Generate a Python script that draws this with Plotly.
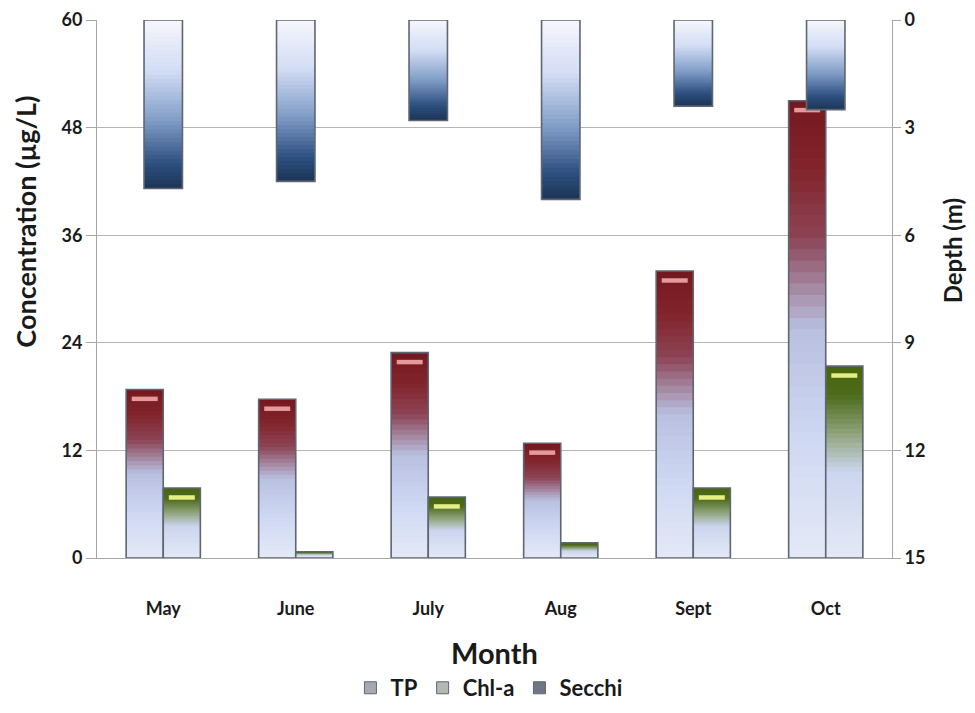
"""Monthly TP, Chl-a and Secchi depth, concentration vs depth bar chart."""

import plotly.graph_objects as go

months = ["May", "June", "July", "Aug", "Sept", "Oct"]
tp = [18.8, 17.7, 22.9, 12.8, 32.0, 51.0]
chla = [7.8, 0.7, 6.8, 1.7, 7.8, 21.4]
secchi = [4.7, 4.5, 2.8, 5.0, 2.4, 2.5]

conc_ticks = [0, 12, 24, 36, 48, 60]
depth_ticks = [0, 3, 6, 9, 12, 15]

FONT = "Lato"
N_SEG = 40


def hex_to_rgb(h):
    h = h.lstrip("#")
    return tuple(int(h[i:i + 2], 16) for i in (0, 2, 4))


def gradient_color(stops, t):
    """Interpolate a colour at t (0 = top of bar, 1 = bottom)."""
    for (t0, c0), (t1, c1) in zip(stops[:-1], stops[1:]):
        if t0 <= t <= t1:
            f = (t - t0) / (t1 - t0) if t1 > t0 else 0
            a, b = hex_to_rgb(c0), hex_to_rgb(c1)
            r, g, bl = (round(a[i] + (b[i] - a[i]) * f) for i in range(3))
            return f"rgb({r},{g},{bl})"
    return stops[-1][1]


TP_STOPS = [(0, "#741820"), (0.15, "#82242b"), (0.3, "#8c4456"),
            (0.5, "#b9c0e0"), (0.75, "#cfd9f3"), (1, "#e4e9f6")]
CHLA_STOPS = [(0, "#48660f"), (0.15, "#4d6a1b"), (0.35, "#8fa37a"),
              (0.55, "#cbd5ee"), (1, "#e4e9f6")]
SECCHI_STOPS = [(0, "#f6f6fc"), (0.3, "#d3ddf5"), (0.6, "#7f9cc6"),
                (0.85, "#2e5080"), (1, "#1b3455")]


def add_gradient_bars(fig, values, stops, offset, width, name, rank, legend_color,
                      yaxis="y", hanging=False, highlight=None):
    """Draw one series as overlapping bars to fake a vertical gradient."""
    # each layer is drawn over the previous one and stops one step shorter,
    # so only a thin band of every colour stays visible (no seams)
    for k in range(N_SEG):
        t = (k + 0.5) / N_SEG
        if hanging:
            # bar hangs from 0 on a reversed axis: top of bar is depth 0
            base = [v * k / N_SEG for v in values]
        else:
            base = [0] * len(values)
        fig.add_trace(go.Bar(
            x=months,
            y=[v * (1 - k / N_SEG) for v in values],
            base=base,
            offset=offset,
            width=width,
            yaxis=yaxis,
            marker={"color": gradient_color(stops, t), "line": {"width": 0}},
            showlegend=False,
            hoverinfo="skip",
        ))

    # highlight strip near the top of the bar
    if highlight:
        fig.add_trace(go.Bar(
            x=months,
            y=[0.5 if v > 3 else 0 for v in values],
            base=[v - 1.3 for v in values],
            offset=offset + width * 0.15,
            width=width * 0.7,
            yaxis=yaxis,
            marker={"color": highlight, "line": {"width": 0}},
            showlegend=False,
            hoverinfo="skip",
        ))

    # outline
    fig.add_trace(go.Bar(
        x=months,
        y=values,
        offset=offset,
        width=width,
        yaxis=yaxis,
        name=name,
        showlegend=False,
        marker={"color": "rgba(0,0,0,0)",
                "line": {"color": "#5f6672", "width": 1.6}},
        hovertemplate=f"{name}: %{{y}}<extra></extra>",
    ))

    # legend entry only
    fig.add_trace(go.Bar(
        x=[None], y=[None],
        name=name,
        legendrank=rank,
        marker={"color": legend_color, "line": {"color": "#5f6672", "width": 1}},
    ))


fig = go.Figure()

# Secchi depth hangs from the top (reversed right axis)
add_gradient_bars(fig, secchi, SECCHI_STOPS, -0.145, 0.29, "Secchi", 3, "#6f7786",
                  yaxis="y2", hanging=True)
add_gradient_bars(fig, tp, TP_STOPS, -0.28, 0.28, "TP", 1, "#a5a9b2",
                  highlight="#e49a9c")
add_gradient_bars(fig, chla, CHLA_STOPS, 0.0, 0.28, "Chl-a", 2, "#b3b8b0",
                  highlight="#e6ee86")

tick_font = {"family": FONT, "size": 18, "color": "#1a1a1a", "weight": "bold"}

# page body keeps its default 8px margin, so the figure is sized to fit inside it
fig.update_layout(
    width=959,
    height=697,
    margin={"l": 89, "r": 75, "t": 12, "b": 147, "autoexpand": False},
    paper_bgcolor="white",
    plot_bgcolor="white",
    barmode="overlay",
    font={"family": FONT, "color": "#1a1a1a"},
    showlegend=True,
    legend={
        "orientation": "h",
        "x": 0.493, "xanchor": "center",
        "y": -0.2416, "yanchor": "middle",
        "font": {"family": FONT, "size": 22, "color": "#1a1a1a", "weight": "bold"},
        "itemwidth": 30,
        "traceorder": "normal",
    },
    xaxis={
        "type": "category",
        "range": [-0.5, 5.5],
        "automargin": False,
        "showline": True,
        "linecolor": "#a6a6a6",
        "linewidth": 1,
        "ticks": "",
        "tickfont": {"family": FONT, "size": 18, "color": "#1a1a1a", "weight": "bold"},
        "ticklabelstandoff": 34,
        "showgrid": False,
    },
    yaxis={
        "range": [0, 60],
        "tickvals": conc_ticks,
        "automargin": False,
        "ticklabeloverflow": "allow",
        "showgrid": True,
        "gridcolor": "#b5b5b5",
        "gridwidth": 1,
        "showline": True,
        "linecolor": "#a6a6a6",
        "ticks": "outside",
        "ticklen": 10,
        "tickcolor": "#a6a6a6",
        "tickfont": tick_font,
        "zeroline": False,
    },
    yaxis2={
        "overlaying": "y",
        "side": "right",
        "range": [15, 0],
        "tickvals": depth_ticks,
        "automargin": False,
        "ticklabeloverflow": "allow",
        "showgrid": False,
        "showline": True,
        "linecolor": "#a6a6a6",
        "ticks": "outside",
        "ticklen": 8,
        "tickcolor": "#a6a6a6",
        "tickfont": tick_font,
        "zeroline": False,
    },
)

# axis titles
fig.add_annotation(
    text="Concentration (µg/L)", textangle=-90,
    xref="paper", yref="paper", x=-0.09, y=0.626,
    xanchor="center", yanchor="middle",
    showarrow=False,
    font={"family": FONT, "size": 27, "color": "#1a1a1a", "weight": "bold"},
)
fig.add_annotation(
    text="Depth (m)", textangle=-90,
    xref="paper", yref="paper", x=1.0755, y=0.57,
    xanchor="center", yanchor="middle",
    showarrow=False,
    font={"family": FONT, "size": 24, "color": "#1a1a1a", "weight": "bold"},
)
fig.add_annotation(
    text="Month",
    xref="paper", yref="paper", x=0.5, y=-0.176,
    xanchor="center", yanchor="middle", showarrow=False,
    font={"family": FONT, "size": 29, "color": "#1a1a1a", "weight": "bold"},
)

fig.write_html("out.html")
